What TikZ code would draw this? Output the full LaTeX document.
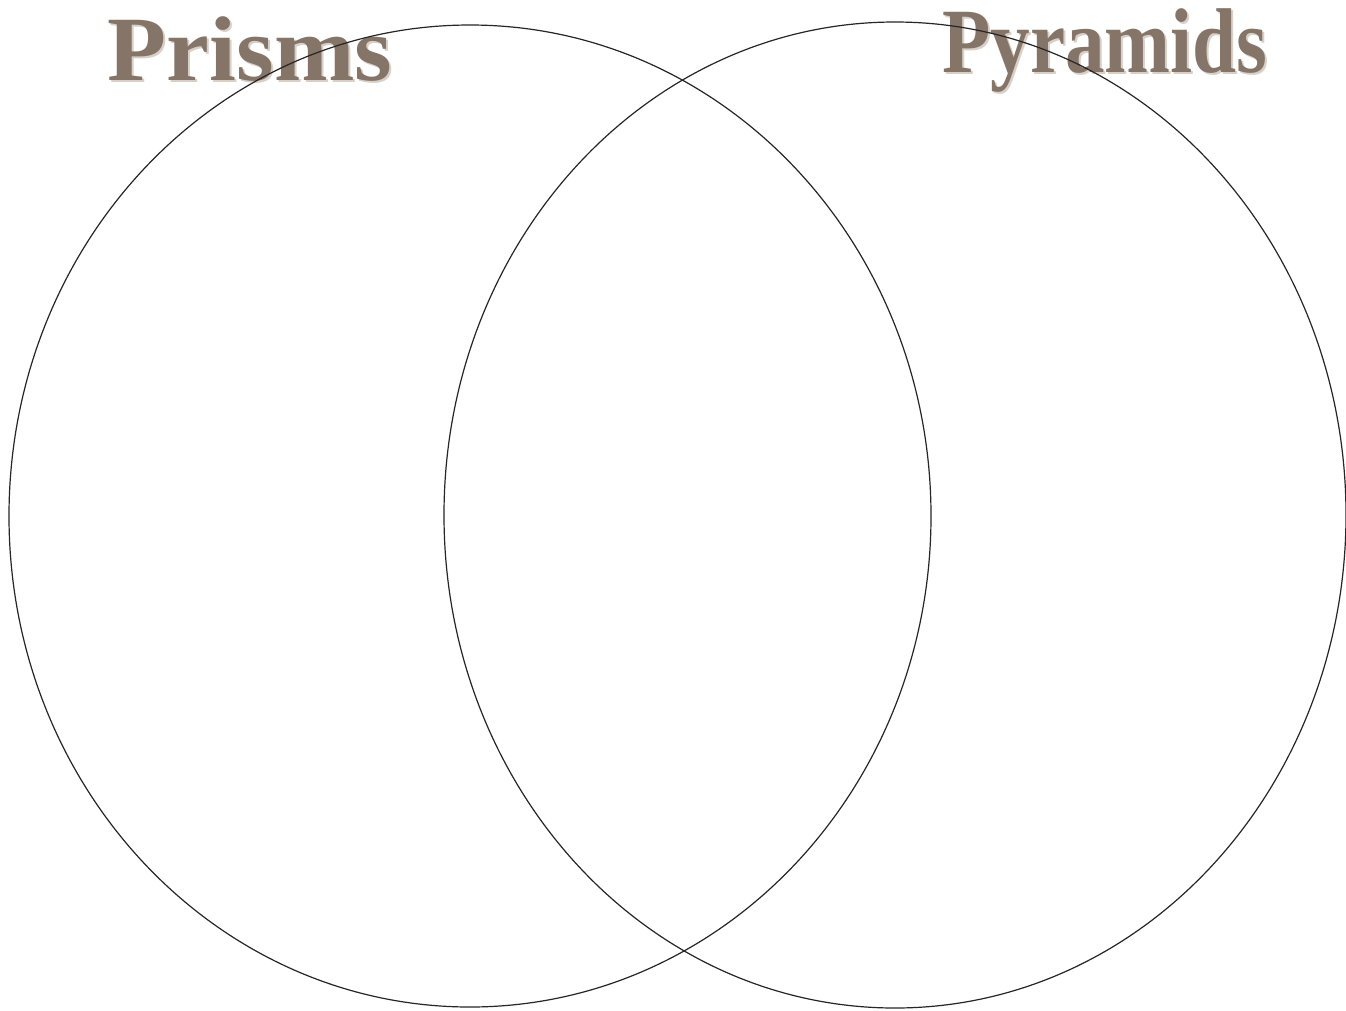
\documentclass[tikz,border=0pt]{standalone}
\usepackage{fontspec}
\newfontfamily\titlefont{Liberation Serif}
\definecolor{titlebrown}{HTML}{857468}
\definecolor{titleedge}{HTML}{D9CFC6}
\begin{document}
\begin{tikzpicture}[x=1pt,y=-1pt,
  venn/.style={draw=black!85,line width=1.2pt},
  titletext/.style={inner sep=0pt,text=titlebrown,font=\titlefont\bfseries\fontsize{92}{92}\selectfont}]
\useasboundingbox (0,0) rectangle (1346,1010);
\fill[white] (0,0) rectangle (1346,1010);
\node[titletext,anchor=base,text=titleedge,xscale=1.05] (prismsshadow) at (252,82) {Prisms};
\node[titletext,anchor=base,xscale=1.05] (prisms) at (250,80) {Prisms};
\node[titletext,anchor=base,text=titleedge,xscale=0.86] (pyramidsshadow) at (1107,74) {Pyramids};
\node[titletext,anchor=base,xscale=0.86] (pyramids) at (1105,72) {Pyramids};
\draw[venn] (470,516) ellipse [x radius=461, y radius=491];
\draw[venn] (895,515) ellipse [x radius=451, y radius=493];
\end{tikzpicture}
\end{document}
